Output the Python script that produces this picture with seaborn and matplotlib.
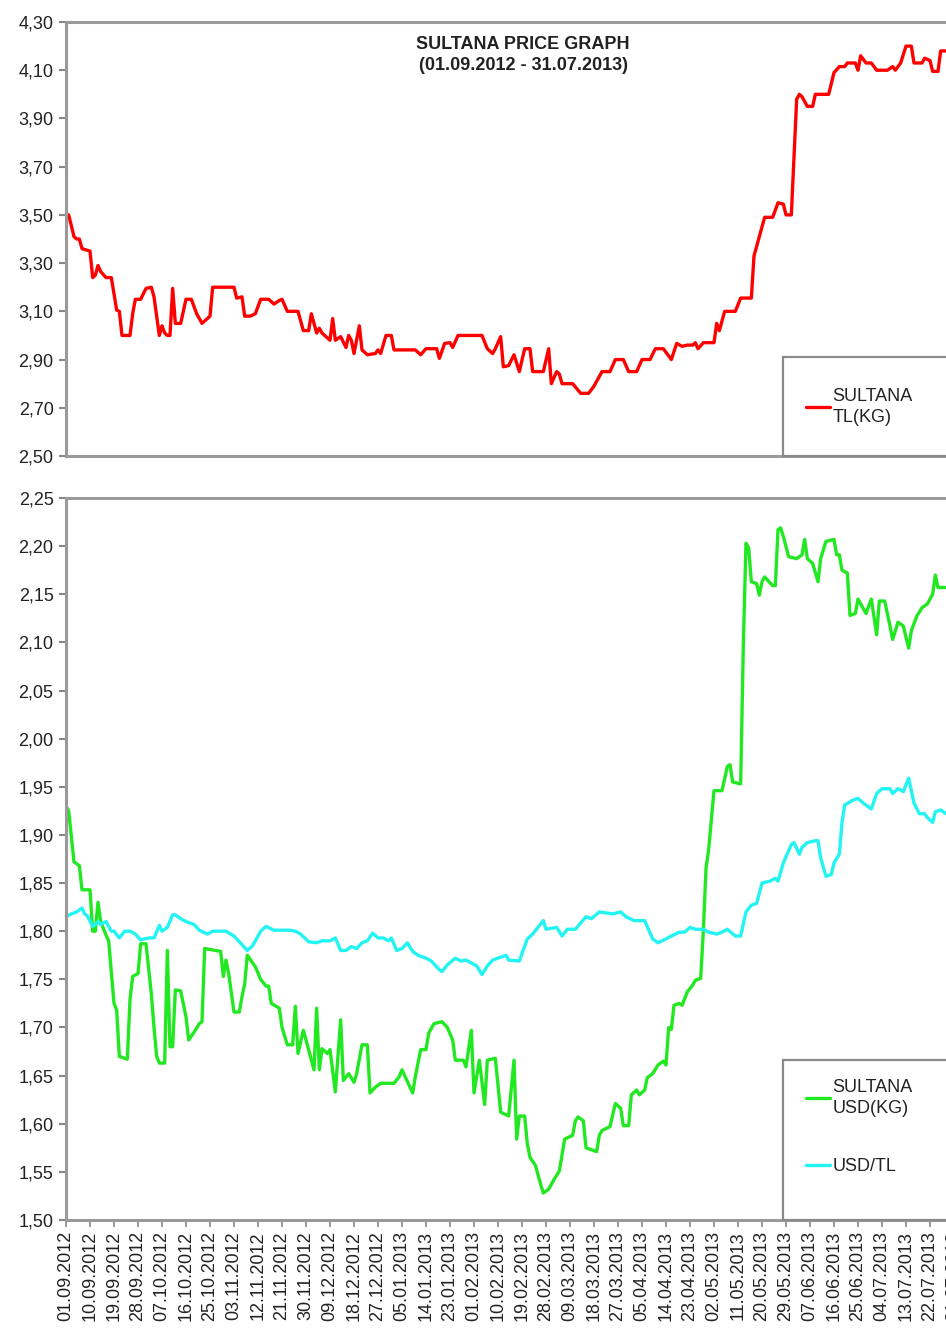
import numpy as np
import pandas as pd
import matplotlib
matplotlib.use("Agg")
import matplotlib.pyplot as plt
from matplotlib.patches import Rectangle
import seaborn as sns

# ---------------- data (day offset from 01.09.2012, value) ----------------
START = "2012-09-01"
END = "2013-07-31"

tl_days = [0, 1, 3, 4, 5, 6, 9, 10, 11, 12, 13, 15, 17, 19, 20, 21, 24, 25, 26, 28,
           30, 32, 33, 35, 36, 37, 38, 39, 40, 41, 43, 45, 47, 49, 51, 53, 54, 55, 63, 64,
           66, 67, 69, 71, 73, 76, 78, 80, 81, 83, 87, 89, 91, 92, 94, 95, 96, 99, 100, 101,
           103, 105, 106, 107, 108, 110, 111, 113, 116, 117, 118, 120, 122, 123, 131, 133, 135, 139, 140, 142,
           144, 145, 147, 156, 158, 160, 161, 163, 164, 166, 168, 170, 172, 174, 175, 179, 181, 182, 184, 185,
           186, 190, 193, 196, 198, 201, 204, 206, 209, 211, 214, 216, 219, 221, 224, 227, 229, 231, 233, 235,
           236, 237, 239, 243, 244, 245, 247, 251, 253, 257, 258, 260, 262, 265, 267, 269, 270, 272, 274, 275,
           276, 278, 280, 281, 286, 288, 290, 292, 293, 296, 297, 298, 300, 302, 304, 308, 310, 311, 313, 315,
           317, 318, 321, 322, 324, 325, 327, 328, 330, 333]
tl_vals = [3.50, 3.50, 3.41, 3.40, 3.40, 3.36, 3.35, 3.24, 3.25, 3.29, 3.265, 3.24, 3.24, 3.105, 3.10, 3.00, 3.00, 3.09, 3.15, 3.15,
           3.195, 3.20, 3.16, 3.00, 3.04, 3.01, 3.00, 3.00, 3.195, 3.05, 3.05, 3.15, 3.15, 3.09, 3.05, 3.07, 3.08, 3.20, 3.20, 3.155,
           3.16, 3.08, 3.08, 3.09, 3.15, 3.15, 3.13, 3.145, 3.15, 3.10, 3.10, 3.02, 3.02, 3.09, 3.01, 3.03, 3.01, 2.98, 3.07, 2.98,
           2.995, 2.95, 3.00, 2.98, 2.925, 3.04, 2.94, 2.92, 2.925, 2.94, 2.925, 3.00, 3.00, 2.94, 2.94, 2.92, 2.945, 2.945, 2.905, 2.967,
           2.97, 2.95, 3.00, 3.00, 2.945, 2.925, 2.945, 2.995, 2.87, 2.875, 2.92, 2.85, 2.945, 2.945, 2.85, 2.85, 2.945, 2.80, 2.85, 2.84,
           2.80, 2.80, 2.76, 2.76, 2.79, 2.85, 2.85, 2.90, 2.90, 2.85, 2.85, 2.90, 2.90, 2.945, 2.945, 2.90, 2.967, 2.955, 2.96, 2.96,
           2.97, 2.945, 2.97, 2.97, 3.05, 3.02, 3.10, 3.10, 3.155, 3.155, 3.33, 3.41, 3.49, 3.49, 3.55, 3.545, 3.50, 3.50, 3.98, 4.00,
           3.99, 3.95, 3.95, 4.00, 4.00, 4.09, 4.115, 4.115, 4.13, 4.13, 4.10, 4.16, 4.13, 4.13, 4.10, 4.10, 4.115, 4.10, 4.13, 4.20,
           4.20, 4.13, 4.13, 4.15, 4.14, 4.095, 4.095, 4.18, 4.18, 4.18]

usd_days = [0, 1, 3, 5, 6, 9, 10, 11, 12, 13, 15, 16, 18, 19, 20, 23, 24, 25, 27, 28,
            30, 32, 33, 34, 35, 37, 38, 39, 40, 41, 43, 45, 46, 48, 50, 51, 52, 58, 59, 60,
            61, 63, 65, 66, 67, 68, 70, 71, 73, 75, 76, 77, 80, 81, 83, 85, 86, 87, 89, 90,
            93, 94, 95, 96, 98, 99, 101, 103, 104, 106, 108, 109, 111, 113, 114, 116, 118, 123, 125, 126,
            130, 131, 133, 135, 136, 138, 141, 143, 145, 146, 149, 150, 152, 153, 155, 157, 158, 161, 163, 166,
            168, 169, 170, 172, 173, 174, 176, 178, 179, 181, 183, 185, 187, 190, 191, 192, 194, 195, 199, 200,
            201, 204, 206, 208, 209, 211, 212, 214, 215, 217, 218, 220, 222, 224, 225, 226, 227, 228, 230, 231,
            233, 235, 236, 238, 239, 240, 241, 243, 246, 248, 249, 250, 253, 254, 255, 256, 257, 259, 260, 261,
            262, 263, 265, 266, 267, 268, 269, 271, 274, 276, 277, 278, 280, 282, 283, 285, 288, 289, 290, 291,
            293, 294, 296, 297, 298, 300, 302, 304, 305, 307, 309, 310, 312, 314, 316, 317, 319, 321, 323, 325,
            326, 327, 330, 333]
usd_vals = [1.93, 1.925, 1.872, 1.868, 1.843, 1.843, 1.80, 1.80, 1.83, 1.81, 1.796, 1.79, 1.725, 1.718, 1.67, 1.667, 1.729, 1.753, 1.756, 1.787,
            1.787, 1.735, 1.70, 1.67, 1.663, 1.663, 1.78, 1.68, 1.68, 1.739, 1.738, 1.711, 1.687, 1.695, 1.704, 1.706, 1.782, 1.779, 1.753, 1.77,
            1.756, 1.716, 1.716, 1.732, 1.745, 1.775, 1.767, 1.763, 1.75, 1.743, 1.743, 1.725, 1.72, 1.70, 1.682, 1.682, 1.722, 1.673, 1.697, 1.687,
            1.656, 1.72, 1.656, 1.678, 1.673, 1.677, 1.633, 1.708, 1.645, 1.652, 1.643, 1.652, 1.682, 1.682, 1.632, 1.638, 1.642, 1.642, 1.649, 1.656,
            1.632, 1.649, 1.677, 1.677, 1.694, 1.704, 1.706, 1.70, 1.687, 1.666, 1.666, 1.659, 1.697, 1.632, 1.666, 1.62, 1.666, 1.668, 1.612, 1.608,
            1.666, 1.584, 1.608, 1.608, 1.579, 1.565, 1.557, 1.537, 1.528, 1.532, 1.542, 1.551, 1.584, 1.588, 1.603, 1.607, 1.603, 1.575, 1.571, 1.588,
            1.593, 1.597, 1.621, 1.616, 1.598, 1.598, 1.63, 1.635, 1.63, 1.635, 1.648, 1.652, 1.661, 1.665, 1.661, 1.70, 1.698, 1.723, 1.725, 1.723,
            1.737, 1.744, 1.749, 1.751, 1.80, 1.865, 1.885, 1.946, 1.946, 1.971, 1.973, 1.955, 1.953, 2.098, 2.203, 2.198, 2.163, 2.161, 2.149, 2.163,
            2.168, 2.165, 2.159, 2.159, 2.217, 2.219, 2.21, 2.189, 2.187, 2.191, 2.207, 2.187, 2.182, 2.163, 2.187, 2.205, 2.207, 2.191, 2.191, 2.175,
            2.172, 2.128, 2.13, 2.145, 2.14, 2.13, 2.145, 2.108, 2.143, 2.143, 2.117, 2.103, 2.121, 2.117, 2.094, 2.112, 2.127, 2.136, 2.14, 2.15,
            2.17, 2.157, 2.157, 2.157]

fx_days = [0, 2, 4, 6, 7, 8, 10, 11, 12, 13, 15, 17, 18, 20, 22, 24, 26, 28, 31, 33,
           35, 36, 38, 40, 41, 43, 45, 48, 50, 53, 55, 58, 60, 63, 65, 68, 70, 73, 75, 78,
           80, 84, 86, 88, 91, 94, 96, 99, 101, 103, 105, 107, 109, 111, 113, 115, 117, 119, 121, 122,
           124, 126, 128, 130, 132, 135, 137, 140, 141, 143, 146, 148, 150, 152, 154, 156, 158, 160, 162, 165,
           166, 170, 173, 175, 179, 180, 184, 186, 188, 191, 195, 197, 200, 205, 208, 210, 213, 217, 220, 222,
           225, 227, 230, 232, 234, 236, 239, 241, 244, 246, 248, 251, 253, 255, 257, 259, 261, 264, 266, 267,
           269, 272, 273, 275, 276, 278, 281, 282, 283, 285, 287, 288, 290, 291, 292, 295, 297, 299, 300, 302,
           304, 306, 309, 310, 312, 314, 315, 316, 318, 320, 322, 323, 325, 326, 328, 330, 333]
fx_vals = [1.815, 1.818, 1.82, 1.824, 1.818, 1.816, 1.805, 1.807, 1.81, 1.807, 1.81, 1.80, 1.80, 1.793, 1.80, 1.80, 1.797, 1.791, 1.793, 1.793,
           1.806, 1.80, 1.804, 1.817, 1.817, 1.813, 1.81, 1.807, 1.801, 1.797, 1.80, 1.80, 1.80, 1.795, 1.789, 1.78, 1.785, 1.80, 1.805, 1.801,
           1.801, 1.801, 1.80, 1.797, 1.789, 1.788, 1.79, 1.79, 1.793, 1.78, 1.78, 1.784, 1.782, 1.788, 1.79, 1.798, 1.793, 1.793, 1.79, 1.793,
           1.78, 1.782, 1.788, 1.779, 1.775, 1.772, 1.769, 1.76, 1.758, 1.765, 1.772, 1.769, 1.77, 1.767, 1.764, 1.755, 1.764, 1.77, 1.772, 1.775,
           1.77, 1.769, 1.792, 1.797, 1.811, 1.802, 1.804, 1.795, 1.802, 1.802, 1.815, 1.813, 1.82, 1.818, 1.82, 1.815, 1.811, 1.811, 1.792, 1.788,
           1.792, 1.795, 1.799, 1.799, 1.804, 1.802, 1.802, 1.799, 1.797, 1.799, 1.802, 1.795, 1.795, 1.82, 1.827, 1.829, 1.85, 1.852, 1.855, 1.852,
           1.871, 1.89, 1.892, 1.88, 1.887, 1.892, 1.894, 1.894, 1.876, 1.857, 1.859, 1.871, 1.88, 1.913, 1.931, 1.936, 1.938, 1.933, 1.931, 1.927,
           1.943, 1.948, 1.948, 1.943, 1.948, 1.945, 1.952, 1.959, 1.933, 1.922, 1.922, 1.918, 1.913, 1.924, 1.926, 1.922, 1.922]

tick_dates = pd.date_range(START, END, freq="9D")
tick_days = [(d - pd.Timestamp(START)).days for d in tick_dates]
tick_labels = [d.strftime("%d.%m.%Y") for d in tick_dates]
top_yticks = [2.50, 2.70, 2.90, 3.10, 3.30, 3.50, 3.70, 3.90, 4.10, 4.30]
bot_yticks = [1.50, 1.55, 1.60, 1.65, 1.70, 1.75, 1.80, 1.85, 1.90, 1.95, 2.00, 2.05, 2.10, 2.15, 2.20, 2.25]
total_days = (pd.Timestamp(END) - pd.Timestamp(START)).days

# ---------------- style ----------------
sns.set_theme(style="white")
plt.rcParams["font.family"] = ["Liberation Sans", "DejaVu Sans"]

W, H = 946, 1328
fig = plt.figure(figsize=(W / 100, H / 100), dpi=100)
fig.patch.set_facecolor("white")


def rect(l, t, r, b):
    return [l / W, 1 - b / H, (r - l) / W, (b - t) / H]


ax1 = fig.add_axes(rect(66, 22, 954, 456))
ax2 = fig.add_axes(rect(66, 498, 954, 1220))

SPINE = "#9a9a9a"
TXT = "#222222"
LW = 2.4

sns.lineplot(x=tl_days, y=tl_vals, ax=ax1, color="#FF0000", linewidth=LW,
             estimator=None, sort=False, label="SULTANA\nTL(KG)")
sns.lineplot(x=usd_days, y=usd_vals, ax=ax2, color="#22E822", linewidth=LW,
             estimator=None, sort=False, label="SULTANA\nUSD(KG)")
sns.lineplot(x=fx_days, y=fx_vals, ax=ax2, color="#22F4F4", linewidth=LW,
             estimator=None, sort=False, label="USD/TL")

for ax, yt, ylim in ((ax1, top_yticks, (2.50, 4.30)), (ax2, bot_yticks, (1.50, 2.25))):
    ax.set_xlim(0, total_days)
    ax.set_ylim(*ylim)
    ax.set_yticks(yt)
    ax.set_yticklabels([f"{v:.2f}".replace(".", ",") for v in yt])
    ax.set_xlabel("")
    ax.set_ylabel("")
    for s in ("top", "left", "bottom"):
        ax.spines[s].set_color(SPINE)
        ax.spines[s].set_linewidth(2.2)
    ax.spines["right"].set_visible(False)
    ax.tick_params(axis="y", left=True, direction="out", length=5, width=1.5,
                   color="#888888", labelsize=13, labelcolor=TXT, pad=4)

ax1.set_xticks([])
ax2.set_xticks(tick_days)
ax2.set_xticklabels(tick_labels, rotation=90)
ax2.tick_params(axis="x", bottom=True, direction="out", length=5, width=1.2,
                color="#888888", labelsize=13, labelcolor=TXT, pad=3)

# title
fig.text(523 / W, 1 - 55 / H, "SULTANA PRICE GRAPH\n(01.09.2012 - 31.07.2013)",
         ha="center", va="center", fontsize=13, fontweight="bold", color=TXT,
         linespacing=1.3)

# legend boxes
bx = (783 - 66) / 888
ax1.add_patch(Rectangle((bx, 0), 0.4, (456 - 357) / 434, transform=ax1.transAxes,
                        facecolor="white", edgecolor="#8a8a8a", lw=1.6, clip_on=False, zorder=4))
ax2.add_patch(Rectangle((bx, 0), 0.4, (1220 - 1060) / 722, transform=ax2.transAxes,
                        facecolor="white", edgecolor="#8a8a8a", lw=1.6, clip_on=False, zorder=4))

h1, l1 = ax1.get_legend_handles_labels()
leg1 = ax1.legend(h1, l1, loc="upper left", bbox_to_anchor=(806 / W, 1 - 388 / H),
                  bbox_transform=fig.transFigure, frameon=False, fontsize=13,
                  handlelength=1.35, handletextpad=0.1, borderpad=0, borderaxespad=0)
leg1.set_zorder(6)
for t in leg1.get_texts():
    t.set_color(TXT)
    t.set_linespacing(1.3)

h2, l2 = ax2.get_legend_handles_labels()
leg2 = ax2.legend(h2, l2, loc="upper left", bbox_to_anchor=(806 / W, 1 - 1079 / H),
                  bbox_transform=fig.transFigure, frameon=False, fontsize=13,
                  handlelength=1.35, handletextpad=0.1, borderpad=0, borderaxespad=0,
                  labelspacing=2.3)
leg2.set_zorder(6)
for t in leg2.get_texts():
    t.set_color(TXT)
    t.set_linespacing(1.3)

fig.savefig("out.png", dpi=100, facecolor="white")
